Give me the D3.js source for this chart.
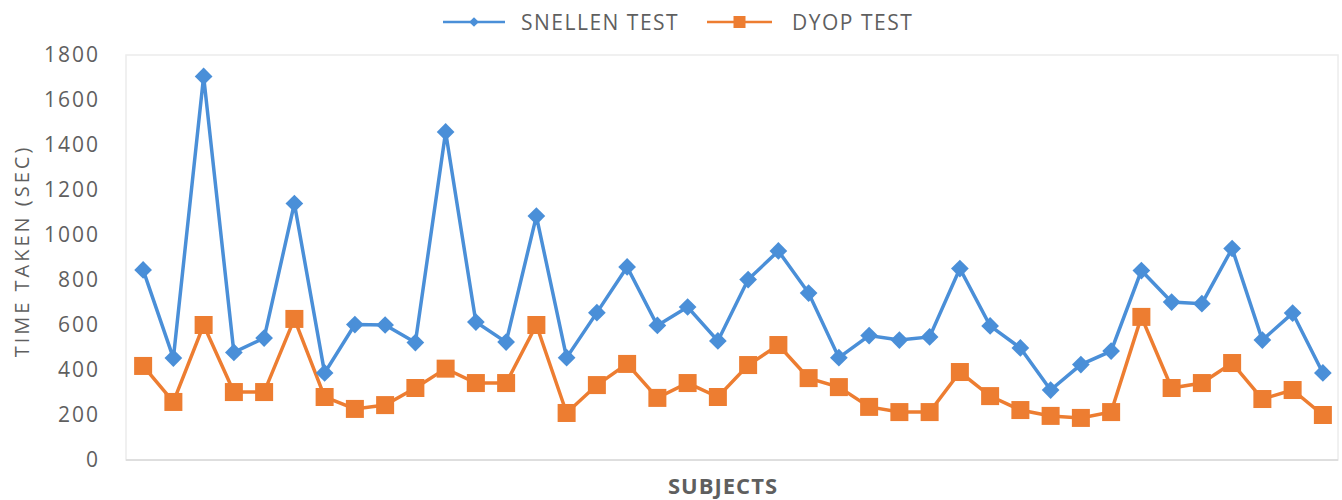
<!DOCTYPE html>
<html>
<head>
<meta charset="utf-8">
<script src="https://cdn.jsdelivr.net/npm/d3@7"></script>
<style>
body { margin: 0; background: #fff; }
svg text { font-family: "Open Sans", sans-serif; fill: #5f5f5f; }
</style>
</head>
<body>
<svg id="chart" width="1342" height="500"></svg>
<script>
// values
var subjects = d3.range(1, 41);
var seriesNames = ["SNELLEN TEST", "DYOP TEST"];
var snellen = [845, 453, 1705, 478, 542, 1140, 387, 602, 600, 522,
	1458, 613, 524, 1084, 455, 655, 858, 598, 680, 529,
	802, 929, 742, 455, 553, 533, 547, 851, 596, 498,
	311, 424, 484, 842, 702, 695, 940, 533, 653, 387];
var dyop = [418, 258, 600, 302, 302, 627, 280, 227, 244, 320,
	406, 342, 342, 600, 209, 333, 427, 276, 342, 280,
	422, 511, 364, 324, 236, 213, 213, 391, 284, 222,
	196, 187, 213, 636, 320, 342, 431, 271, 311, 200];
var yTicks = [0, 200, 400, 600, 800, 1000, 1200, 1400, 1600, 1800];

var blue = "#4a8fd8";
var orange = "#ed7d31";

var svg = d3.select("#chart");

var x = d3.scaleBand().domain(subjects).range([128, 1338]);
var y = d3.scaleLinear().domain([0, 1800]).range([460, 55]);

//plot frame
svg.append("rect")
	.attr("x", 126).attr("y", 55)
	.attr("width", 1212).attr("height", 405)
	.attr("fill", "none")
	.attr("stroke", "#ececec")
	.attr("stroke-width", 1.5);

svg.append("line")
	.attr("x1", 126).attr("x2", 1338)
	.attr("y1", y(0)).attr("y2", y(0))
	.attr("stroke", "#d9d9d9")
	.attr("stroke-width", 1.5);

//y axis
var yAxis = svg.append("g")
	.attr("transform", "translate(126,0)")
	.call(d3.axisLeft(y).tickValues(yTicks).tickFormat(d3.format("d")).tickSize(0).tickPadding(26));
yAxis.select(".domain").remove();
yAxis.selectAll("text")
	.style("font-family", "'Open Sans', sans-serif")
	.style("font-size", "21px")
	.style("letter-spacing", "2px")
	.attr("fill", "#5f5f5f");

//axis titles
svg.append("text")
	.attr("transform", "translate(29,251) rotate(-90)")
	.attr("text-anchor", "middle")
	.style("font-size", "20px")
	.style("letter-spacing", "3px")
	.text("TIME TAKEN (SEC)");

svg.append("text")
	.attr("x", 723).attr("y", 494)
	.attr("text-anchor", "middle")
	.style("font-size", "22px")
	.style("font-weight", "bold")
	.style("letter-spacing", "1px")
	.text("SUBJECTS");

var line = d3.line()
	.x(function (d, i) { return x(subjects[i]) + x.bandwidth() / 2; })
	.y(function (d) { return y(d); });

//dyop series
svg.append("path")
	.datum(dyop)
	.attr("d", line)
	.attr("fill", "none")
	.attr("stroke", orange)
	.attr("stroke-width", 3.5);

svg.selectAll(".sq")
	.data(dyop)
	.enter()
	.append("rect")
	.attr("class", "sq")
	.attr("x", function (d, i) { return x(subjects[i]) + x.bandwidth() / 2 - 9; })
	.attr("y", function (d) { return y(d) - 9; })
	.attr("width", 18).attr("height", 18)
	.attr("fill", orange);

//snellen series
svg.append("path")
	.datum(snellen)
	.attr("d", line)
	.attr("fill", "none")
	.attr("stroke", blue)
	.attr("stroke-width", 3.5);

var diamond = d3.symbol().type(d3.symbolDiamond2).size(200);

svg.selectAll(".dm")
	.data(snellen)
	.enter()
	.append("path")
	.attr("class", "dm")
	.attr("d", diamond)
	.attr("transform", function (d, i) {
		return "translate(" + (x(subjects[i]) + x.bandwidth() / 2) + "," + y(d) + ")";
	})
	.attr("fill", blue);

//legend
var legend = svg.append("g");
var legendItems = [
	{name: seriesNames[0], color: blue, x0: 443, x1: 505, tx: 521},
	{name: seriesNames[1], color: orange, x0: 707, x1: 772, tx: 792}
];
legendItems.forEach(function (item, i) {
	legend.append("line")
		.attr("x1", item.x0).attr("x2", item.x1)
		.attr("y1", 22).attr("y2", 22)
		.attr("stroke", item.color)
		.attr("stroke-width", 2.5);
	var mx = (item.x0 + item.x1) / 2;
	if (i == 0) {
		legend.append("path")
			.attr("d", d3.symbol().type(d3.symbolDiamond2).size(60))
			.attr("transform", "translate(" + mx + ",22)")
			.attr("fill", item.color);
	} else {
		legend.append("rect")
			.attr("x", mx - 6).attr("y", 16)
			.attr("width", 12).attr("height", 12)
			.attr("fill", item.color);
	}
	legend.append("text")
		.attr("x", item.tx).attr("y", 30)
		.style("font-size", "21px")
		.style("letter-spacing", "1.5px")
		.text(item.name);
});
</script>
</body>
</html>
